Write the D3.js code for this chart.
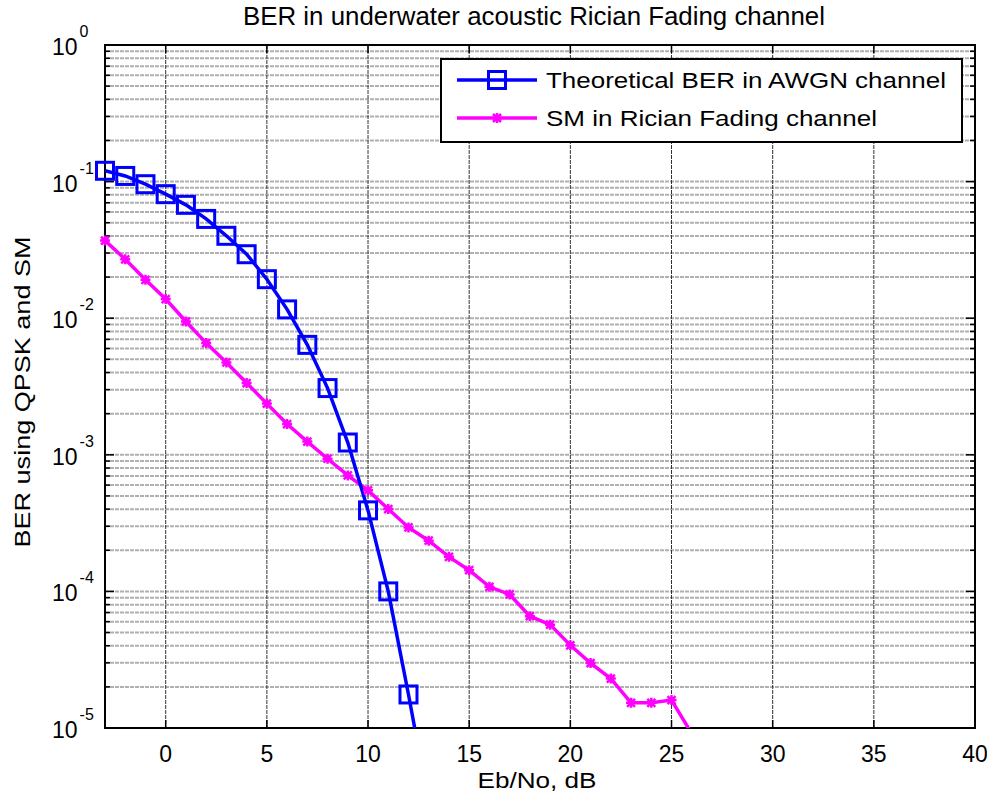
<!DOCTYPE html>
<html>
<head>
<meta charset="utf-8">
<script src="https://cdn.jsdelivr.net/npm/d3@7"></script>
<style>
  body { margin: 0; background: #fff; }
  text { font-family: Arial, "Liberation Sans", sans-serif; fill: #000; }
</style>
</head>
<body>
<div id="chart"></div>
<script>
// data
var ebno = [-3, -2, -1, 0, 1, 2, 3, 4, 5, 6, 7, 8, 9, 10, 11, 12, 13];
var theoryBer = [0.120, 0.110, 0.0957, 0.0809, 0.0676, 0.0533, 0.0401, 0.0294, 0.0193, 0.0116,
                 0.00638, 0.00308, 0.00123, 3.92e-4, 1.0e-4, 1.76e-5, 2.8e-6];

var ebnoSM = [-3, -2, -1, 0, 1, 2, 3, 4, 5, 6, 7, 8, 9, 10, 11, 12, 13, 14, 15, 16,
              17, 18, 19, 20, 21, 22, 23, 24, 25, 26];
var smBer = [0.0370, 0.0270, 0.0191, 0.0138, 0.00946, 0.00657, 0.00474, 0.00335, 0.00237, 0.00168,
             0.00125, 9.36e-4, 7.06e-4, 5.49e-4, 4.01e-4, 2.94e-4, 2.35e-4, 1.79e-4, 1.43e-4, 1.08e-4,
             9.5e-5, 6.58e-5, 5.71e-5, 4.03e-5, 2.99e-5, 2.30e-5, 1.53e-5, 1.53e-5, 1.60e-5, 9.1e-6];

var xTicks = [0, 5, 10, 15, 20, 25, 30, 35, 40];
var yTicks = [1, 1e-1, 1e-2, 1e-3, 1e-4, 1e-5];
var yExps = ["0", "-1", "-2", "-3", "-4", "-5"];
var seriesNames = ["Theoretical BER in AWGN channel", "SM in Rician Fading channel"];

var drawChart = function () {
    var width = 987, height = 800;
    var pL = 105, pR = 975, pT = 45, pB = 728;

    var svg = d3.select("#chart").append("svg")
        .attr("width", width)
        .attr("height", height);

    var x = d3.scaleLinear().domain([-3, 40]).range([pL, pR]);
    var y = d3.scaleLog().domain([1e-5, 1]).range([pB, pT]);

    // minor decade values for grid / ticks
    var minor = [];
    for (var e = -5; e < 0; e++) {
        for (var m = 2; m <= 9; m++) minor.push(m * Math.pow(10, e));
    }

    var grid = svg.append("g");
    // horizontal grid (major + minor)
    grid.selectAll(".hg").data(yTicks.concat(minor)).enter().append("line")
        .attr("x1", pL).attr("x2", pR)
        .attr("y1", function (d) { return y(d); })
        .attr("y2", function (d) { return y(d); })
        .attr("stroke", "#b0b0b0")
        .attr("stroke-width", 2)
        .attr("stroke-dasharray", "4,1");
    // vertical grid
    grid.selectAll(".vg").data(xTicks).enter().append("line")
        .attr("x1", function (d) { return x(d); })
        .attr("x2", function (d) { return x(d); })
        .attr("y1", pT).attr("y2", pB)
        .attr("stroke", "#333")
        .attr("stroke-width", 1)
        .attr("stroke-dasharray", "4,1");

    // ticks, inward on all four sides
    var ticks = svg.append("g").attr("stroke", "#000").attr("stroke-width", 1.5);
    xTicks.forEach(function (d) {
        ticks.append("line").attr("x1", x(d)).attr("x2", x(d)).attr("y1", pB).attr("y2", pB - 8);
        ticks.append("line").attr("x1", x(d)).attr("x2", x(d)).attr("y1", pT).attr("y2", pT + 8);
    });
    yTicks.forEach(function (d) {
        ticks.append("line").attr("x1", pL).attr("x2", pL + 9).attr("y1", y(d)).attr("y2", y(d));
        ticks.append("line").attr("x1", pR).attr("x2", pR - 9).attr("y1", y(d)).attr("y2", y(d));
    });
    minor.forEach(function (d) {
        ticks.append("line").attr("x1", pL).attr("x2", pL + 5).attr("y1", y(d)).attr("y2", y(d));
        ticks.append("line").attr("x1", pR).attr("x2", pR - 5).attr("y1", y(d)).attr("y2", y(d));
    });

    // axes box
    svg.append("rect")
        .attr("x", pL).attr("y", pT)
        .attr("width", pR - pL).attr("height", pB - pT)
        .attr("fill", "none")
        .attr("stroke", "#000")
        .attr("stroke-width", 2);

    // tick labels
    svg.selectAll(".xl").data(xTicks).enter().append("text")
        .attr("x", function (d) { return x(d); })
        .attr("y", 762)
        .attr("text-anchor", "middle")
        .style("font-size", "23px")
        .text(function (d) { return d; });

    yTicks.forEach(function (d, i) {
        var t = svg.append("text")
            .attr("x", 52)
            .attr("y", y(d) + 10)
            .style("font-size", "23px");
        t.append("tspan").text("10");
        t.append("tspan").attr("dy", -18).attr("dx", 2).style("font-size", "16px").text(yExps[i]);
    });

    // data
    svg.append("clipPath").attr("id", "clip")
        .append("rect").attr("x", pL).attr("y", pT)
        .attr("width", pR - pL).attr("height", pB - pT);
    var plot = svg.append("g").attr("clip-path", "url(#clip)");
    var marks = svg.append("g");

    var theory = ebno.map(function (d, i) { return [d, theoryBer[i]]; });
    var sm = ebnoSM.map(function (d, i) { return [d, smBer[i]]; });
    var inside = function (d) { return d[1] >= 1e-5 && d[1] <= 1; };

    var line = d3.line()
        .x(function (d) { return x(d[0]); })
        .y(function (d) { return y(d[1]); });

    plot.append("path").datum(sm)
        .attr("d", line)
        .attr("fill", "none")
        .attr("stroke", "#ff00ff")
        .attr("stroke-width", 3.5);

    var star = "M-4,-4L4,4M-4,4L4,-4M0,-5L0,5M-5,0L5,0";
    marks.selectAll(".sm").data(sm.filter(inside)).enter().append("path")
        .attr("transform", function (d) { return "translate(" + x(d[0]) + "," + y(d[1]) + ")"; })
        .attr("d", star)
        .attr("stroke", "#ff00ff")
        .attr("stroke-width", 2.5);

    plot.append("path").datum(theory)
        .attr("d", line)
        .attr("fill", "none")
        .attr("stroke", "#0000ff")
        .attr("stroke-width", 3.5);

    marks.selectAll(".th").data(theory.filter(inside)).enter().append("rect")
        .attr("x", function (d) { return x(d[0]) - 8.5; })
        .attr("y", function (d) { return y(d[1]) - 8.5; })
        .attr("width", 17).attr("height", 17)
        .attr("fill", "none")
        .attr("stroke", "#0000ff")
        .attr("stroke-width", 3);

    // legend
    var lg = svg.append("g");
    lg.append("rect")
        .attr("x", 441).attr("y", 59)
        .attr("width", 521).attr("height", 83)
        .attr("fill", "#fff")
        .attr("stroke", "#000")
        .attr("stroke-width", 2);
    var rows = [80, 118];
    var colors = ["#0000ff", "#ff00ff"];
    var lens = [400, 331];
    seriesNames.forEach(function (name, i) {
        lg.append("line")
            .attr("x1", 457).attr("x2", 537)
            .attr("y1", rows[i]).attr("y2", rows[i])
            .attr("stroke", colors[i]).attr("stroke-width", 3.5);
        if (i === 0) {
            lg.append("rect").attr("x", 497 - 8.5).attr("y", rows[i] - 8.5)
                .attr("width", 17).attr("height", 17)
                .attr("fill", "none").attr("stroke", colors[i]).attr("stroke-width", 3);
        } else {
            lg.append("path").attr("transform", "translate(497," + rows[i] + ")")
                .attr("d", star).attr("stroke", colors[i]).attr("stroke-width", 2.5);
        }
        lg.append("text")
            .attr("x", 546).attr("y", rows[i] + 8)
            .attr("textLength", lens[i])
            .attr("lengthAdjust", "spacingAndGlyphs")
            .style("font-size", "22px")
            .text(name);
    });

    // title and axis labels
    svg.append("text")
        .attr("x", 534).attr("y", 25)
        .attr("text-anchor", "middle")
        .attr("textLength", 582)
        .attr("lengthAdjust", "spacingAndGlyphs")
        .style("font-size", "25px")
        .text("BER in underwater acoustic Rician Fading channel");

    svg.append("text")
        .attr("x", 537).attr("y", 788)
        .attr("text-anchor", "middle")
        .attr("textLength", 119)
        .attr("lengthAdjust", "spacingAndGlyphs")
        .style("font-size", "22px")
        .text("Eb/No, dB");

    svg.append("text")
        .attr("transform", "translate(30,392) rotate(-90)")
        .attr("text-anchor", "middle")
        .attr("textLength", 311)
        .attr("lengthAdjust", "spacingAndGlyphs")
        .style("font-size", "22px")
        .text("BER using QPSK and SM");
};

drawChart();
</script>
</body>
</html>
